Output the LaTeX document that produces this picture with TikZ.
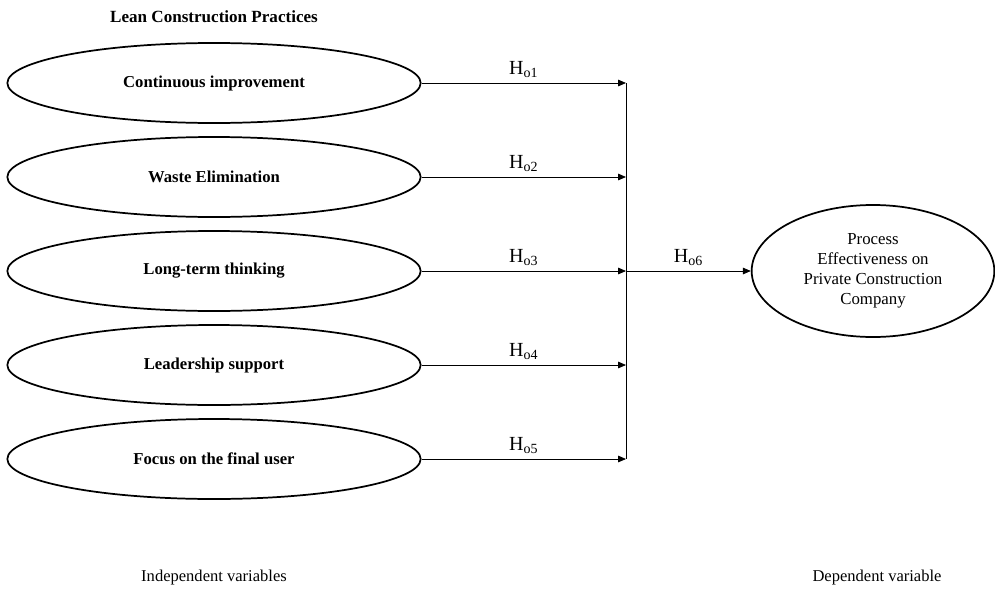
\documentclass[tikz,border=0pt]{standalone}
\usepackage{fontspec}
\setmainfont{Liberation Serif}
\usetikzlibrary{shapes.geometric,arrows.meta}

\begin{document}
\begin{tikzpicture}[x=0.75pt,y=-0.75pt,
every node/.style={font=\fontsize{12.4}{15}\selectfont},
practice/.style={draw, ellipse, line width=1.3pt, minimum width=310pt, minimum height=60pt, inner sep=0pt, font=\fontsize{12.5}{15}\selectfont\bfseries},
outcome/.style={draw, ellipse, line width=1.3pt, minimum width=182pt, minimum height=99pt, inner sep=0pt, align=center, font=\fontsize{12.6}{15}\selectfont},
link/.style={line width=0.6pt, -{Triangle[length=6pt,width=5pt]}},
hyp/.style={above, inner sep=4pt, font=\fontsize{15}{18}\selectfont}
]
\useasboundingbox (0,0) rectangle (995,589);

\node[font=\fontsize{12.8}{15}\selectfont\bfseries] (title) at (214,17) {Lean Construction Practices};

\node[practice] (ci) at (214,83) {Continuous improvement};
\node[practice] (we) at (214,177) {Waste Elimination};
\node[practice] (lt) at (214,271) {Long-term thinking};
\node[practice] (ls) at (214,365) {Leadership support};
\node[practice] (fu) at (214,459) {Focus on the final user};

\node[outcome] (pe) at (873,271) {Process\\Effectiveness on\\Private Construction\\Company};

\coordinate (j1) at (626,83);
\coordinate (j2) at (626,177);
\coordinate (j3) at (626,271);
\coordinate (j4) at (626,365);
\coordinate (j5) at (626,459);

\draw[link] (ci.east) -- node[hyp] {H\textsubscript{o1}} (j1);
\draw[link] (we.east) -- node[hyp] {H\textsubscript{o2}} (j2);
\draw[link] (lt.east) -- node[hyp] {H\textsubscript{o3}} (j3);
\draw[link] (ls.east) -- node[hyp] {H\textsubscript{o4}} (j4);
\draw[link] (fu.east) -- node[hyp] {H\textsubscript{o5}} (j5);
\draw[line width=0.6pt] (j1) -- (j5);
\draw[link] (j3) -- node[hyp] {H\textsubscript{o6}} (pe.west);

\node (iv) at (214,578) {Independent variables};
\node (dv) at (877,578) {Dependent variable};
\end{tikzpicture}
\end{document}
